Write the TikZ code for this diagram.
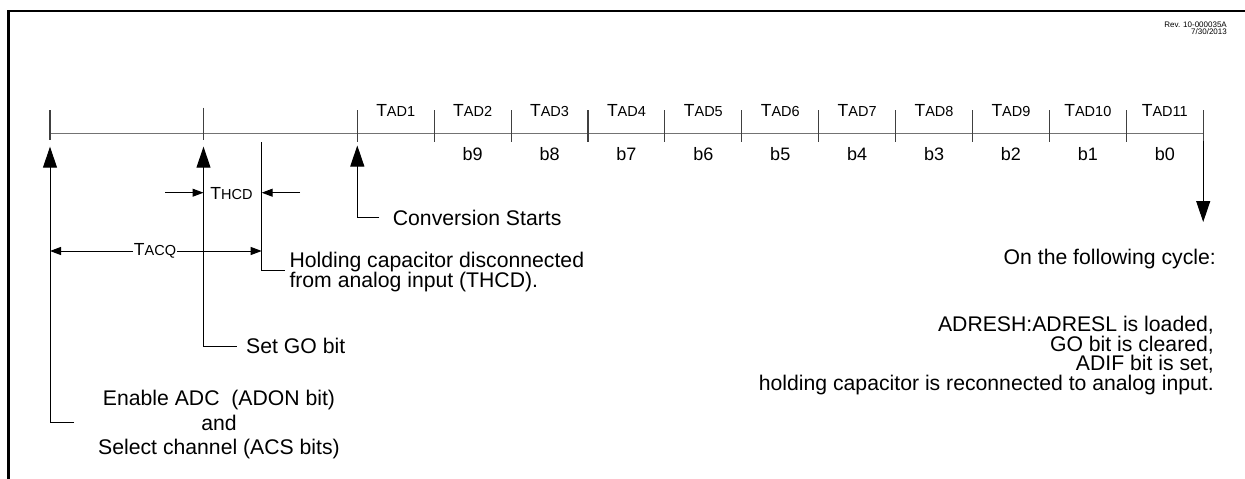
\documentclass[tikz,border=0pt]{standalone}
\usepackage{fontspec}
\setmainfont{Liberation Sans}
\usetikzlibrary{arrows.meta}
\newcommand\tsubtxt[1]{T{\fontsize{14.5}{14.5}\selectfont #1}}
\begin{document}
\begin{tikzpicture}[x=1pt,y=-1pt,
  lbl/.style={inner sep=0pt, font=\fontsize{21.2}{19.3}\selectfont},
  tadl/.style={inner sep=0pt, font=\fontsize{17.5}{17.5}\selectfont},
  bitl/.style={inner sep=0pt, font=\fontsize{18}{18}\selectfont},
  tiny/.style={inner sep=0pt, font=\fontsize{8}{8}\selectfont},
  ln/.style={line width=1pt, black},
  tl/.style={line width=1.3pt, black!55},
  tk/.style={line width=1.1pt, black!75},
  bigarr/.style={ln, -{Triangle[length=21pt,width=14pt]}},
  smallarr/.style={ln, -{Triangle[length=11pt,width=8pt]}}
]
\useasboundingbox (0,0) rectangle (1245,479);
% frame
\draw[line width=2.5pt, line join=miter] (8.5,479) -- (8.5,11) -- (1245,11);
\node[tiny, anchor=base east] (rev) at (1227,27.3) {Rev. 10-000035A};
\node[tiny, anchor=base east] (date) at (1227,34.5) {7/30/2013};

% timeline
\coordinate (tlL) at (50,133.3);
\coordinate (tlR) at (1203.2,133.3);
\draw[tl] (tlL) -- (tlR);

% left ticks
\coordinate (k1t) at (50,110);    \coordinate (k1b) at (50,140);
\coordinate (k2t) at (203.5,107.7); \coordinate (k2b) at (203.5,140);
\draw[tk] (k1t) -- (k1b);
\draw[tk] (k2t) -- (k2b);

% TAD ticks and labels
\foreach \i in {0,...,11}{
  \coordinate (t\i a) at ({357.3+76.9*\i},110);
  \coordinate (t\i b) at ({357.3+76.9*\i},142);
  \draw[tk] (t\i a) -- (t\i b);
}
\foreach \i in {1,...,11}{
  \node[tadl, anchor=base] (tad\i) at ({357.3+76.9*(\i-0.5)},116.7) {\tsubtxt{AD\i}};
}
\foreach \i [evaluate=\i as \b using int(11-\i)] in {2,...,11}{
  \node[bitl, anchor=base] (bit\i) at ({357.3+76.9*(\i-0.5)},160.5) {b\b};
}

% Enable ADC arrow
\coordinate (enTip) at (50,146.7);
\coordinate (enCorner) at (50,422.7);
\coordinate (enEnd) at (74,422.7);
\draw[bigarr] (enEnd) -- (enCorner) -- (enTip);
\node[lbl, anchor=base] (en1) at (219,405.5) {Enable ADC\ \ (ADON bit)};
\node[lbl, anchor=base] (en2) at (219,430) {and};
\node[lbl, anchor=base] (en3) at (219,454) {Select channel (ACS bits)};

% Set GO bit arrow
\coordinate (goTip) at (203.5,146.7);
\coordinate (goCorner) at (203.5,346);
\coordinate (goEnd) at (236.5,346);
\draw[bigarr] (goEnd) -- (goCorner) -- (goTip);
\node[lbl, anchor=base west] (go) at (246,353.3) {Set GO bit};

% Conversion starts
\coordinate (cvTip) at (357.3,145.5);
\coordinate (cvCorner) at (357.3,217.7);
\coordinate (cvEnd) at (379.3,217.7);
\draw[bigarr] (cvEnd) -- (cvCorner) -- (cvTip);
\node[lbl, anchor=base west] (cv) at (392.7,225) {Conversion Starts};

% Holding capacitor line
\coordinate (hcTop) at (261.7,142);
\coordinate (hcCorner) at (261.7,270);
\coordinate (hcEnd) at (285,270);
\draw[ln] (hcTop) -- (hcCorner) -- (hcEnd);
\node[lbl, anchor=base west] (hc1) at (289.3,267.3) {Holding capacitor disconnected};
\node[lbl, anchor=base west] (hc2) at (289.3,287) {from analog input (THCD).};

% THCD
\node[tadl, anchor=base] (thcd) at (231.5,199.3) {\tsubtxt{HCD}};
\coordinate (hdL) at (165,192.7);
\coordinate (hdLt) at (203.5,192.7);
\coordinate (hdR) at (300,192.7);
\coordinate (hdRt) at (261.7,192.7);
\draw[smallarr] (hdL) -- (hdLt);
\draw[smallarr] (hdR) -- (hdRt);

% TACQ
\node[tadl, anchor=base, inner xsep=0.5pt] (tacq) at (155,255.7) {\tsubtxt{ACQ}};
\coordinate (aqL) at (50,251);
\coordinate (aqR) at (261.7,251);
\draw[smallarr] (tacq.west |- aqL) -- (aqL);
\draw[smallarr] (tacq.east |- aqR) -- (aqR);

% End arrow
\coordinate (dnTop) at (1203.2,141);
\coordinate (dnTip) at (1203.2,222);
\draw[bigarr] (dnTop) -- (dnTip);

% right text
\node[lbl, anchor=base east] (r0) at (1216,264) {On the following cycle:};
\node[lbl, anchor=base east] (r1) at (1214,331.5) {ADRESH:ADRESL is loaded,};
\node[lbl, anchor=base east] (r2) at (1214,351) {GO bit is cleared,};
\node[lbl, anchor=base east] (r3) at (1214,370.5) {ADIF bit is set,};
\node[lbl, anchor=base east] (r4) at (1214,390) {holding capacitor is reconnected to analog input.};
\end{tikzpicture}
\end{document}
